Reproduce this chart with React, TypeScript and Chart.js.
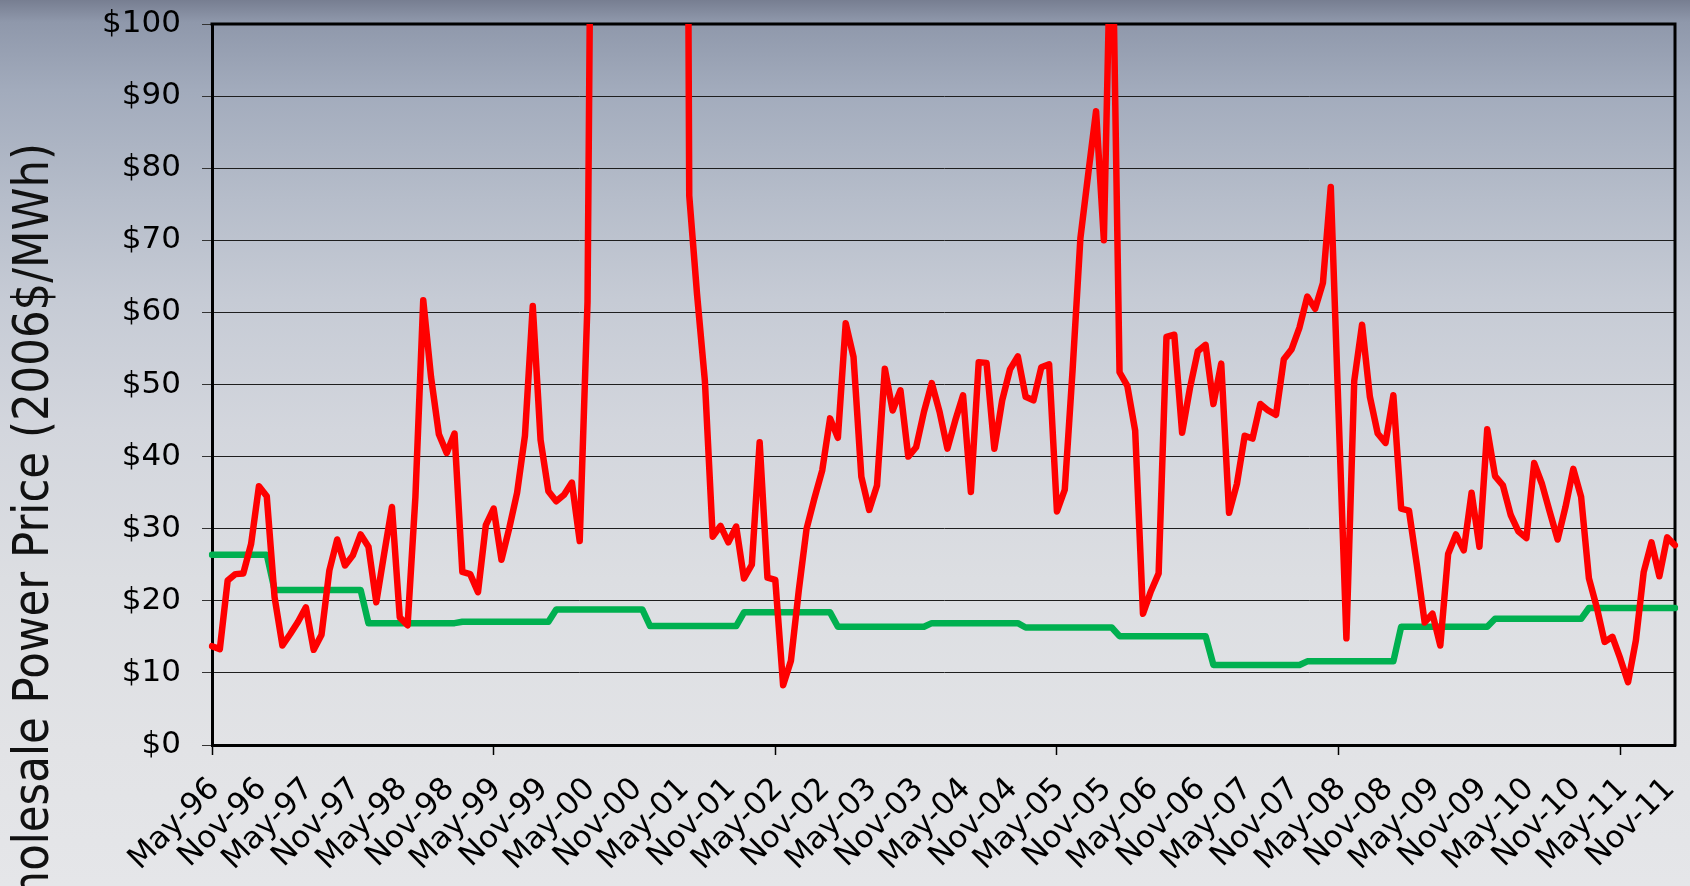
import React, { useEffect, useRef } from "react";
import { Chart, registerables } from "chart.js";

Chart.register(...registerables);

// ---- Categories (monthly, May-96 .. Dec-11) ----
const MONTH_NAMES = ["Jan", "Feb", "Mar", "Apr", "May", "Jun", "Jul", "Aug", "Sep", "Oct", "Nov", "Dec"];
const FIRST_YEAR = 1996;
const FIRST_MONTH_INDEX = 4; // May
const MONTH_COUNT = 188;
const LABEL_EVERY = 6;

const monthLabels: string[] = [];
for (let k = 0; k < MONTH_COUNT; k++) {
  const m = (FIRST_MONTH_INDEX + k) % 12;
  const y = FIRST_YEAR + Math.floor((FIRST_MONTH_INDEX + k) / 12);
  monthLabels.push(`${MONTH_NAMES[m]}-${String(y % 100).padStart(2, "0")}`);
}

// ---- Y axis ----
const Y_MIN = 0;
const Y_MAX = 100;
const Y_STEP = 10;
const Y_TITLE = "Wholesale Power Price (2006$/MWh)";

// ---- Red series: wholesale spot price, by year (values above $100 run off the chart) ----
const price1996 = [13.7, 13.3, 22.8, 23.7, 23.8, 27.9, 35.9, 34.5];
const price1997 = [20.5, 13.8, 15.4, 17.1, 19.1, 13.2, 15.3, 24.2, 28.5, 24.9, 26.3, 29.2];
const price1998 = [27.5, 19.8, 26.5, 33.0, 17.7, 16.6, 34.4, 61.7, 51.0, 43.1, 40.5, 43.2];
const price1999 = [24.0, 23.7, 21.2, 30.5, 32.8, 25.7, 30.1, 35.0, 42.9, 60.9, 42.3, 35.2];
const price2000 = [33.8, 34.7, 36.4, 28.3, 61.5, 200, 160, 180, 150, 130, 200, 380];
const price2001 = [320, 360, 300, 330, 320, 76.2, 62.5, 50.5, 28.9, 30.4, 28.1, 30.3];
const price2002 = [23.1, 25.0, 42.0, 23.2, 22.9, 8.3, 11.7, 21.4, 30.0, 34.2, 38.1, 45.3];
const price2003 = [42.6, 58.5, 53.8, 37.2, 32.6, 36.0, 52.2, 46.4, 49.2, 40.0, 41.3, 46.2];
const price2004 = [50.2, 46.2, 41.1, 45.0, 48.5, 35.1, 53.1, 53.0, 41.1, 47.8, 52.1, 53.9];
const price2005 = [48.3, 47.8, 52.4, 52.8, 32.4, 35.4, 52.0, 70.3, 79.2, 87.9, 70.0, 120];
const price2006 = [51.7, 49.8, 43.6, 18.2, 21.3, 23.8, 56.6, 56.9, 43.3, 49.5, 54.6, 55.5];
const price2007 = [47.3, 52.9, 32.2, 36.2, 42.9, 42.5, 47.3, 46.4, 45.8, 53.5, 54.9, 57.9];
const price2008 = [62.2, 60.5, 64.1, 77.4, 46.0, 14.8, 50.5, 58.3, 48.3, 43.2, 41.9, 48.5];
const price2009 = [32.8, 32.5, 25.0, 17.0, 18.2, 13.8, 26.5, 29.2, 27.0, 35.0, 27.5, 43.8];
const price2010 = [37.3, 36.0, 31.9, 29.6, 28.7, 39.1, 36.2, 32.3, 28.5, 33.0, 38.3, 34.4];
const price2011 = [23.1, 19.1, 14.3, 15.0, 12.0, 8.7, 14.5, 24.0, 28.1, 23.4, 28.8, 27.7];

// ---- Green series: annual level, by year (monthly) ----
const level1996 = [26.4, 26.4, 26.4, 26.4, 26.4, 26.4, 26.4, 26.4];
const level1997 = [21.5, 21.5, 21.5, 21.5, 21.5, 21.5, 21.5, 21.5, 21.5, 21.5, 21.5, 21.5];
const level1998 = [16.9, 16.9, 16.9, 16.9, 16.9, 16.9, 16.9, 16.9, 16.9, 16.9, 16.9, 16.9];
const level1999 = [17.1, 17.1, 17.1, 17.1, 17.1, 17.1, 17.1, 17.1, 17.1, 17.1, 17.1, 17.1];
const level2000 = [18.8, 18.8, 18.8, 18.8, 18.8, 18.8, 18.8, 18.8, 18.8, 18.8, 18.8, 18.8];
const level2001 = [16.5, 16.5, 16.5, 16.5, 16.5, 16.5, 16.5, 16.5, 16.5, 16.5, 16.5, 16.5];
const level2002 = [18.4, 18.4, 18.4, 18.4, 18.4, 18.4, 18.4, 18.4, 18.4, 18.4, 18.4, 18.4];
const level2003 = [16.4, 16.4, 16.4, 16.4, 16.4, 16.4, 16.4, 16.4, 16.4, 16.4, 16.4, 16.4];
const level2004 = [16.9, 16.9, 16.9, 16.9, 16.9, 16.9, 16.9, 16.9, 16.9, 16.9, 16.9, 16.9];
const level2005 = [16.3, 16.3, 16.3, 16.3, 16.3, 16.3, 16.3, 16.3, 16.3, 16.3, 16.3, 16.3];
const level2006 = [15.1, 15.1, 15.1, 15.1, 15.1, 15.1, 15.1, 15.1, 15.1, 15.1, 15.1, 15.1];
const level2007 = [11.1, 11.1, 11.1, 11.1, 11.1, 11.1, 11.1, 11.1, 11.1, 11.1, 11.1, 11.1];
const level2008 = [11.6, 11.6, 11.6, 11.6, 11.6, 11.6, 11.6, 11.6, 11.6, 11.6, 11.6, 11.6];
const level2009 = [16.4, 16.4, 16.4, 16.4, 16.4, 16.4, 16.4, 16.4, 16.4, 16.4, 16.4, 16.4];
const level2010 = [17.5, 17.5, 17.5, 17.5, 17.5, 17.5, 17.5, 17.5, 17.5, 17.5, 17.5, 17.5];
const level2011 = [19.0, 19.0, 19.0, 19.0, 19.0, 19.0, 19.0, 19.0, 19.0, 19.0, 19.0, 19.0];

const priceSeries = [
  ...price1996, ...price1997, ...price1998, ...price1999, ...price2000, ...price2001,
  ...price2002, ...price2003, ...price2004, ...price2005, ...price2006, ...price2007,
  ...price2008, ...price2009, ...price2010, ...price2011,
];
const levelSeries = [
  ...level1996, ...level1997, ...level1998, ...level1999, ...level2000, ...level2001,
  ...level2002, ...level2003, ...level2004, ...level2005, ...level2006, ...level2007,
  ...level2008, ...level2009, ...level2010, ...level2011,
];

const FONT = '"DejaVu Sans", Verdana, sans-serif';

const framePlugin = {
  id: "frame",
  beforeDatasetsDraw(chart: any) {
    const { ctx, chartArea } = chart;
    ctx.save();
    ctx.strokeStyle = "#000";
    ctx.lineWidth = 3;
    ctx.beginPath();
    ctx.moveTo(chartArea.left - 1.5, chartArea.top);
    ctx.lineTo(chartArea.right, chartArea.top);
    ctx.lineTo(chartArea.right, chartArea.bottom + 1.5);
    ctx.stroke();
    ctx.restore();
  },
};

const titlePlugin = {
  id: "sideTitle",
  afterDraw(chart: any) {
    const { ctx } = chart;
    ctx.save();
    ctx.translate(48, 143);
    ctx.rotate(-Math.PI / 2);
    ctx.scale(0.87, 1);
    ctx.font = `50px ${FONT}`;
    ctx.fillStyle = "#111";
    ctx.textAlign = "right";
    ctx.textBaseline = "alphabetic";
    ctx.fillText(Y_TITLE, 0, 0);
    ctx.restore();
  },
};

export default function App() {
  const canvasRef = useRef<HTMLCanvasElement | null>(null);

  useEffect(() => {
    document.body.style.margin = "0";
    document.body.style.overflow = "hidden";
    const canvas = canvasRef.current;
    if (!canvas) return;
    const chart = new Chart(canvas, {
      type: "line",
      data: {
        labels: monthLabels,
        datasets: [
          {
            label: "Wholesale price",
            data: priceSeries,
            borderColor: "#ff0000",
            backgroundColor: "#ff0000",
            borderWidth: 6.5,
            pointRadius: 0,
            tension: 0,
            borderJoinStyle: "round",
            borderCapStyle: "round",
            fill: false,
          },
          {
            label: "Level",
            data: levelSeries,
            borderColor: "#00b050",
            backgroundColor: "#00b050",
            borderWidth: 6.5,
            pointRadius: 0,
            tension: 0,
            borderJoinStyle: "round",
            borderCapStyle: "round",
            fill: false,
          },
        ],
      },
      options: {
        responsive: false,
        maintainAspectRatio: false,
        devicePixelRatio: 1,
        animation: false,
        layout: { padding: { top: 24, right: 15, bottom: 0, left: 0 } },
        plugins: {
          legend: { display: false },
          tooltip: { enabled: false },
        },
        scales: {
          x: {
            type: "category",
            offset: false,
            grid: {
              drawOnChartArea: false,
              drawTicks: true,
              tickLength: 10,
              tickWidth: 1.5,
              tickColor: (c: any) => (c.index % LABEL_EVERY === 0 ? "#000" : "rgba(0,0,0,0)"),
            },
            border: { display: true, color: "#000", width: 3 },
            ticks: {
              autoSkip: false,
              maxRotation: 45,
              minRotation: 45,
              padding: 16,
              labelOffset: 3,
              color: "#000",
              font: { family: FONT, size: 31 },
              callback: (_v: any, i: number) => (i % LABEL_EVERY === 0 ? monthLabels[i] : null),
            },
            afterFit: (s: any) => {
              s.height = 141;
              s.paddingLeft = 0;
              s.paddingRight = 0;
            },
          },
          y: {
            min: Y_MIN,
            max: Y_MAX,
            grid: {
              color: "#1e1e1e",
              lineWidth: 1,
              tickLength: 10,
              tickColor: "#333",
            },
            border: { display: true, color: "#000", width: 3 },
            ticks: {
              stepSize: Y_STEP,
              padding: 21,
              color: "#000",
              font: { family: FONT, size: 31 },
              callback: (v: any) => "$" + v,
            },
            afterFit: (s: any) => {
              s.width = 212;
              s.paddingTop = 0;
              s.paddingBottom = 0;
            },
          },
        },
      },
      plugins: [framePlugin, titlePlugin],
    });
    return () => chart.destroy();
  }, []);

  return (
    <div
      style={{
        width: 1690,
        height: 886,
        position: "relative",
        overflow: "hidden",
        background:
          "linear-gradient(to bottom, #777e91 0px, #8f98ab 22px, #a2abbc 90px, #b6bdca 200px, #c6cbd5 300px, #d3d6dd 430px, #dcdee2 580px, #e2e3e6 750px, #e5e6e9 886px)",
      }}
    >
      <canvas ref={canvasRef} width={1690} height={886} style={{ display: "block" }} />
    </div>
  );
}
